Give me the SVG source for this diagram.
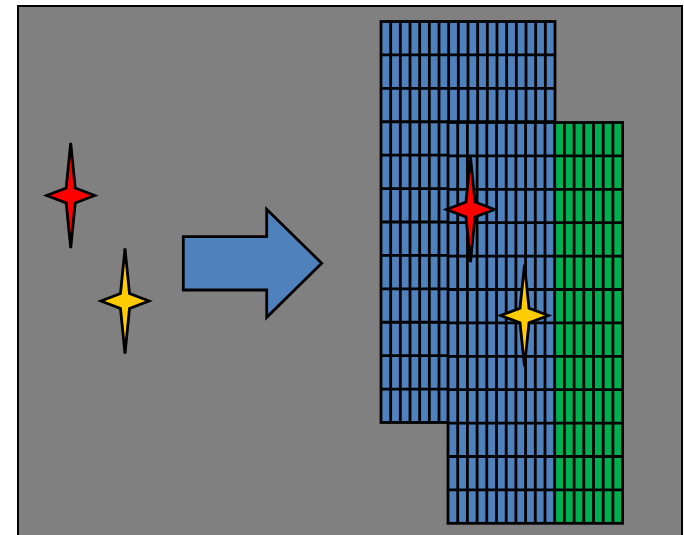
<svg xmlns="http://www.w3.org/2000/svg" width="684" height="535" viewBox="0 0 684 535">
<defs>
<style>
.ln{stroke:#000;stroke-width:2.8;fill:none}
.blue{fill:#4F81BD}
.green{fill:#00B050}
.st{stroke:#000;stroke-width:2.8}
</style>
<polygon id="star" points="0,-52.5 4.5,-7.5 24,0 4.5,7.5 0,52.5 -4.5,7.5 -24,0 -4.5,-7.5"/>
</defs>
<rect width="684" height="535" fill="#fff"/>
<g id="background">
<rect x="18" y="6" width="664" height="540" fill="#808080" stroke="#000" stroke-width="2"/>
</g>
<g id="arrow">
<polygon class="st" fill="#4F81BD" points="183.3,236.7 266.7,236.7 266.7,209.3 321.7,263.3 266.7,317.3 266.7,290 183.3,290"/>
</g>
<g id="blockA">
<rect class="blue" x="381" y="21.5" width="174" height="401"/>
<path class="ln" d="M390.67 21.5V422.5M400.33 21.5V422.5M410 21.5V422.5M419.67 21.5V422.5M429.33 21.5V422.5M439 21.5V422.5M448.67 21.5V422.5M458.33 21.5V422.5M468 21.5V422.5M477.67 21.5V422.5M487.33 21.5V422.5M497 21.5V422.5M506.67 21.5V422.5M516.33 21.5V422.5M526 21.5V422.5M535.67 21.5V422.5M545.33 21.5V422.5M381 54.92H555M381 88.33H555M381 121.75H555M381 155.17H555M381 188.58H555M381 222H555M381 255.42H555M381 288.83H555M381 322.25H555M381 355.67H555M381 389.08H555"/>
<rect class="ln" x="381" y="21.5" width="174" height="401"/>
</g>
<g id="blockB">
<rect class="blue" x="448" y="122.5" width="106.7" height="400.8"/>
<rect class="green" x="554.7" y="122.5" width="67.9" height="400.8"/>
<path class="ln" d="M457.7 122.5V523.3M467.4 122.5V523.3M477.1 122.5V523.3M486.8 122.5V523.3M496.5 122.5V523.3M506.2 122.5V523.3M515.9 122.5V523.3M525.6 122.5V523.3M535.3 122.5V523.3M545 122.5V523.3M554.7 122.5V523.3M564.4 122.5V523.3M574.1 122.5V523.3M583.8 122.5V523.3M593.5 122.5V523.3M603.2 122.5V523.3M612.9 122.5V523.3M448 155.9H622.6M448 189.3H622.6M448 222.7H622.6M448 256.1H622.6M448 289.5H622.6M448 322.9H622.6M448 356.3H622.6M448 389.7H622.6M448 423.1H622.6M448 456.5H622.6M448 489.9H622.6"/>
<rect class="ln" x="448" y="122.5" width="174.6" height="400.8"/>
</g>
<g id="star-red-left"><use href="#star" class="st" fill="#FF0000" transform="translate(70.7,195.5)"/></g>
<g id="star-yellow-left"><use href="#star" class="st" fill="#FFCC00" transform="translate(125,301)"/></g>
<g id="star-red-grid"><use href="#star" class="st" fill="#FF0000" transform="translate(470.5,209.5)"/></g>
<g id="star-yellow-grid"><use href="#star" class="st" fill="#FFCC00" transform="translate(524.5,315.5) scale(1,0.97)"/></g>
</svg>
